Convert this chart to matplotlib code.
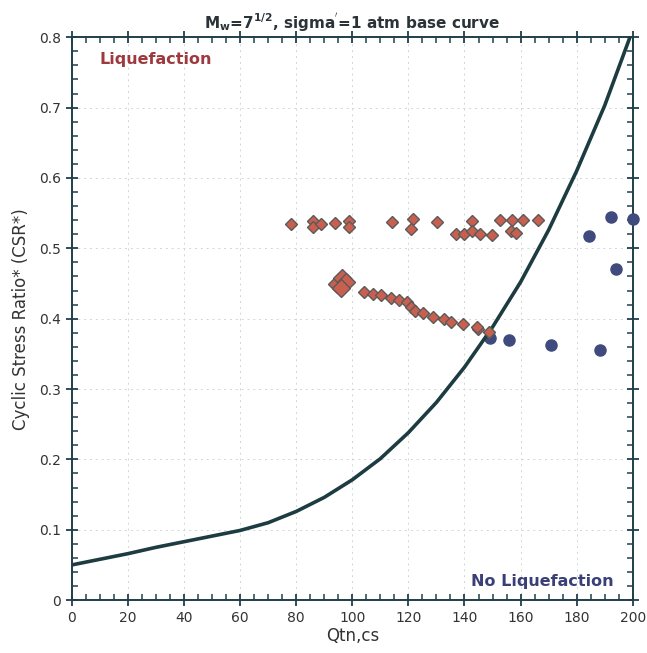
import matplotlib
matplotlib.use("Agg")
import matplotlib.pyplot as plt
from matplotlib.ticker import MultipleLocator

# base curve
curve_q = [0, 10, 20, 30, 40, 50, 60, 70, 80, 90, 100, 110, 120, 130, 140, 150, 160, 170, 180, 190, 199]
curve_csr = [0.050, 0.058, 0.066, 0.075, 0.083, 0.091, 0.099, 0.110, 0.126, 0.146, 0.171, 0.201,
             0.238, 0.281, 0.331, 0.388, 0.452, 0.526, 0.610, 0.703, 0.800]

# liquefied cases (diamonds)
liq_q = [78.3, 86, 86, 89, 94, 98.8, 98.8, 114, 121.8, 120.8, 130.3, 142.7, 136.8, 139.7, 142.7,
         145.6, 149.7, 152.7, 156.8, 160.7, 166.3, 156.6, 158.2,
         104.3, 107.3, 110.4, 113.7, 116.7, 119.6, 120.8, 122.2, 125.3, 128.8, 132.6, 135.2,
         139.5, 144.7, 148.9, 144.4]
liq_csr = [0.535, 0.539, 0.530, 0.534, 0.536, 0.539, 0.530, 0.537, 0.541, 0.527, 0.538, 0.539,
           0.521, 0.521, 0.525, 0.521, 0.519, 0.540, 0.540, 0.540, 0.540, 0.525, 0.522,
           0.438, 0.435, 0.434, 0.430, 0.426, 0.423, 0.416, 0.411, 0.408, 0.402, 0.400, 0.395,
           0.392, 0.385, 0.381, 0.388]

# big diamonds cluster
big_q = [94.5, 96.2, 97.8, 96.0]
big_csr = [0.449, 0.458, 0.452, 0.443]

# non-liquefied cases (circles)
noliq_q = [149.1, 155.9, 170.7, 188.4, 184.3, 192.2, 194.0, 200.0]
noliq_csr = [0.373, 0.369, 0.362, 0.356, 0.518, 0.545, 0.470, 0.541]

axis_col = '#1f3f4a'

fig = plt.figure(figsize=(6.47, 6.53), dpi=100)
ax = fig.add_axes([0.111, 0.081, 0.867, 0.862])

ax.grid(True, color='#cfd6d8', linestyle=(0, (2, 4)), linewidth=0.7)
ax.set_axisbelow(True)

ax.plot(noliq_q, noliq_csr, 'o', color='#3f4a7e', ms=8, mec='#3f4a7e', zorder=3, clip_on=False)
ax.plot(curve_q, curve_csr, '-', color='#1d3c42', lw=2.6, zorder=4)
ax.plot(liq_q, liq_csr, 'D', color='#c9604f', mec='#5a5a5a', mew=1.0, ms=6.5, zorder=5)
ax.plot(big_q, big_csr, 'D', color='#c9604f', mec='#5a5a5a', mew=1.0, ms=9.5, zorder=5)

ax.set_xlim(0, 200)
ax.set_ylim(0, 0.8)
ax.xaxis.set_major_locator(MultipleLocator(20))
ax.xaxis.set_minor_locator(MultipleLocator(5))
ax.yaxis.set_major_locator(MultipleLocator(0.1))
ax.yaxis.set_minor_locator(MultipleLocator(0.02))
ax.yaxis.set_major_formatter(plt.FuncFormatter(lambda v, p: '0' if v == 0 else '%.1f' % v))

ax.tick_params(which='major', direction='inout', length=9, width=1.3, color=axis_col,
               top=True, right=True, labelsize=10, labelcolor='#333333')
ax.tick_params(which='minor', direction='in', length=4, width=1.1, color=axis_col,
               top=True, right=True)
for s in ax.spines.values():
    s.set_color(axis_col)
    s.set_linewidth(1.4)

ax.set_xlabel('Qtn,cs', fontsize=12, color='#333333', labelpad=1)
ax.set_ylabel('Cyclic Stress Ratio* (CSR*)', fontsize=12, color='#333333', labelpad=6)
ax.set_title("M$_\\mathregular{w}$=7$^{\\mathregular{1/2}}$, sigma$^{'}$=1 atm base curve",
             fontsize=11, fontweight='bold', color='#2a3338', pad=6)

ax.text(10, 0.769, 'Liquefaction', color='#9e3a3e', fontsize=11.5, fontweight='bold', va='center')
ax.text(193, 0.027, 'No Liquefaction', color='#3b3f78', fontsize=11.5, fontweight='bold',
        va='center', ha='right')

fig.savefig('out.png', dpi=100)
